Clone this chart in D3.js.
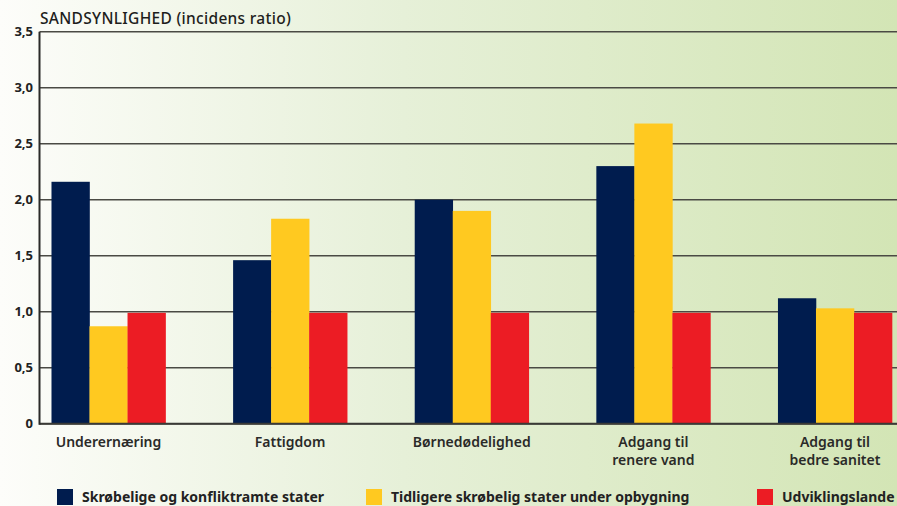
<!DOCTYPE html>
<html><head><meta charset="utf-8">
<script src="https://cdn.jsdelivr.net/npm/d3@7"></script>
<style>html,body{margin:0;padding:0;overflow:hidden;}svg{display:block;}</style>
</head><body>
<svg id="chart" width="897" height="506"></svg>
<script>
const categories = [["Underernæring"],["Fattigdom"],["Børnedødelighed"],["Adgang til","renere vand"],["Adgang til","bedre sanitet"]];
const seriesNames = ["Skrøbelige og konfliktramte stater","Tidligere skrøbelig stater under opbygning","Udviklingslande"];
const fragile = [2.16, 1.46, 2.00, 2.30, 1.12];
const former = [0.87, 1.83, 1.90, 2.68, 1.03];
const developing = [0.99, 0.99, 0.99, 0.99, 0.99];
const yTicks = [0, 0.5, 1.0, 1.5, 2.0, 2.5, 3.0, 3.5];
const yTickLabels = ["0","0,5","1,0","1,5","2,0","2,5","3,0","3,5"];
const title = "SANDSYNLIGHED (incidens ratio)";
const colors = ["#001c4e","#ffc920","#ec1c24"];

const W = 897, H = 506;
const svg = d3.select("#chart");
const defs = svg.append("defs");
const grad = defs.append("linearGradient").attr("id","bg").attr("x1","0").attr("x2","1").attr("y1","0").attr("y2","0");
grad.append("stop").attr("offset","0").attr("stop-color","#fdfdfa");
grad.append("stop").attr("offset","0.45").attr("stop-color","#e6f0d8");
grad.append("stop").attr("offset","1").attr("stop-color","#d3e5b5");
svg.append("rect").attr("width",W).attr("height",H).attr("fill","url(#bg)");

const fontFam = "'Noto Sans', 'Open Sans', sans-serif";
const x0 = 39.5, plotRight = 897;
const keys = categories.map(c => c.join(" "));
const x = d3.scaleBand().domain(keys).range([x0, 904]).paddingInner(0.372).paddingOuter(0.066);
const xs = d3.scaleBand().domain(seriesNames).range([0, x.bandwidth()]);
const y = d3.scaleLinear().domain([0, 3.5]).range([423.7, 31.7]);

// grid lines
svg.append("g").selectAll("line").data(yTicks).join("line")
  .attr("x1", x0).attr("x2", plotRight)
  .attr("y1", d => y(d)).attr("y2", d => y(d))
  .attr("stroke", "#4a4a44").attr("stroke-width", 1.6);

// bars
const data = [fragile, former, developing];
const g = svg.append("g");
keys.forEach((k, i) => {
  g.selectAll(null).data(seriesNames.map((s, j) => ({s, v: data[j][i], j}))).join("rect")
    .attr("x", d => x(k) + xs(d.s))
    .attr("width", xs.bandwidth() + 0.3)
    .attr("y", d => y(d.v))
    .attr("height", d => y(0) - y(d.v))
    .attr("fill", d => colors[d.j]);
});

// baseline and y axis line
svg.append("line").attr("x1", x0).attr("x2", plotRight).attr("y1", y(0)).attr("y2", y(0)).attr("stroke","#3a3a36").attr("stroke-width",2);
svg.append("line").attr("x1", x0).attr("x2", x0).attr("y1", y(3.5)).attr("y2", y(0)+1).attr("stroke","#2a2a28").attr("stroke-width",2);

// y tick labels
svg.append("g").selectAll("text").data(yTicks).join("text")
  .attr("x", 33).attr("y", d => y(d) + 4.5)
  .attr("text-anchor","end")
  .attr("font-family", fontFam).attr("font-weight","bold").attr("font-size", 13)
  .attr("fill","#222")
  .text((d, i) => yTickLabels[i]);

// title
svg.append("text").attr("x", 40).attr("y", 24)
  .attr("font-family", fontFam).attr("font-size", 15.5).attr("font-weight", 500)
  .attr("letter-spacing", 0.3).attr("fill","#1e1e1c")
  .text(title);

// x labels
keys.forEach((k, i) => {
  const t = svg.append("text").attr("x", x(k) + x.bandwidth()/2).attr("y", 447)
    .attr("text-anchor","middle").attr("font-family", fontFam).attr("font-weight", 600)
    .attr("font-size", 14).attr("fill","#2a2a28");
  categories[i].forEach((line, li) => {
    t.append("tspan").attr("x", x(k) + x.bandwidth()/2).attr("dy", li === 0 ? 0 : 18).text(line);
  });
});

// legend
const legendX = [57, 366, 757];
const lg = svg.append("g");
seriesNames.forEach((s, i) => {
  lg.append("rect").attr("x", legendX[i]).attr("y", 489).attr("width", 16).attr("height", 16).attr("fill", colors[i]);
  lg.append("text").attr("x", legendX[i] + 25).attr("y", 502)
    .attr("font-family", fontFam).attr("font-weight","bold").attr("font-size", 14).attr("fill","#222")
    .text(s);
});
</script>
</body></html>
